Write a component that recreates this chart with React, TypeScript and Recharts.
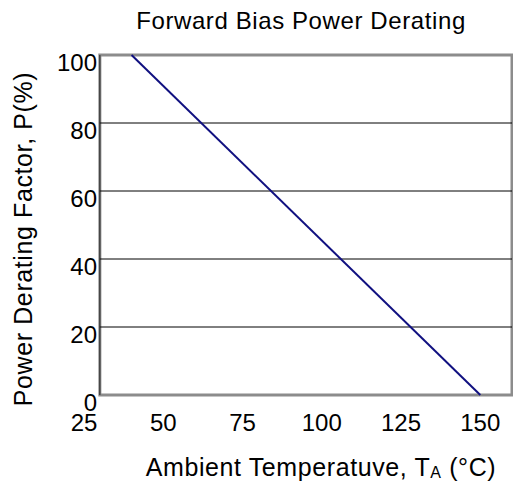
import { LineChart, Line, XAxis, YAxis, ReferenceLine, ReferenceArea } from 'recharts'

// derating curve: ambient temperature (°C) vs power derating factor (%)
const temps = [40, 150]
const factors = [100, 0]

const xTicks = [25, 50, 75, 100, 125, 150]
const yTicks = [0, 20, 40, 60, 80, 100]
const gridLevels = [20, 40, 60, 80]

const X_MIN = 25
const X_MAX = 160
const BOX_LEFT = 30

const data = temps.map((t, i) => ({ t, p: factors[i] }))

const FONT = 'Liberation Sans, Arial, sans-serif'

const XTitle = (props: any) => {
  const { viewBox } = props
  const cx = viewBox.x + viewBox.width / 2 + 23
  return (
    <text x={cx} y={viewBox.y + 81} textAnchor="middle" fontFamily={FONT} fontSize={25} letterSpacing={0.6} fill="#000">
      Ambient Temperatuve, T
      <tspan fontSize={16} dy={2}>A</tspan>
      <tspan dy={-2}> (°C)</tspan>
    </text>
  )
}

const YTitle = (props: any) => {
  const { viewBox } = props
  const cy = viewBox.y + viewBox.height / 2 + 14
  return (
    <text
      x={23}
      y={cy}
      transform={`rotate(-90, 23, ${cy})`}
      textAnchor="middle"
      dominantBaseline="central"
      fontFamily={FONT}
      fontSize={25}
      letterSpacing={0.6}
      fill="#000"
    >
      Power Derating Factor, P(%)
    </text>
  )
}

export default function App() {
  return (
    <div style={{ position: 'absolute', left: 0, top: 0, width: 513, height: 487, background: '#fff' }}>
      <div
        style={{
          position: 'absolute',
          left: 0,
          top: 7,
          width: 602,
          textAlign: 'center',
          fontFamily: FONT,
          fontSize: 24,
          letterSpacing: 0.6,
          color: '#000',
        }}
      >
        Forward Bias Power Derating
      </div>
      <LineChart width={513} height={487} data={data} margin={{ top: 55, right: 1, bottom: 0, left: 0 }}>
        <XAxis
          dataKey="t"
          type="number"
          domain={[X_MIN, X_MAX]}
          ticks={xTicks}
          axisLine={false}
          tickLine={false}
          tickSize={0}
          tickMargin={19}
          height={92}
          tick={{ fontSize: 24, fill: '#000', fontFamily: FONT }}
          label={{ content: XTitle }}
        />
        <YAxis
          type="number"
          domain={[0, 100]}
          ticks={yTicks}
          axisLine={false}
          tickLine={false}
          tickSize={0}
          tickMargin={0}
          width={84}
          tick={{ fontSize: 24, fill: '#000', fontFamily: FONT, dx: 13, dy: 7 }}
          label={{ content: YTitle }}
        />
        {gridLevels.map((v) => (
          <ReferenceLine
            key={v}
            segment={[{ x: BOX_LEFT, y: v }, { x: X_MAX, y: v }]}
            stroke="#000"
            strokeWidth={1}
          />
        ))}
        <ReferenceArea x1={BOX_LEFT} x2={X_MAX} y1={0} y2={100} fill="none" stroke="#8c8c8c" strokeWidth={3} />
        <ReferenceLine x={BOX_LEFT} stroke="#222" strokeWidth={1} />
        <Line
          dataKey="p"
          stroke="#101080"
          strokeWidth={2}
          dot={false}
          isAnimationActive={false}
        />
      </LineChart>
    </div>
  )
}
